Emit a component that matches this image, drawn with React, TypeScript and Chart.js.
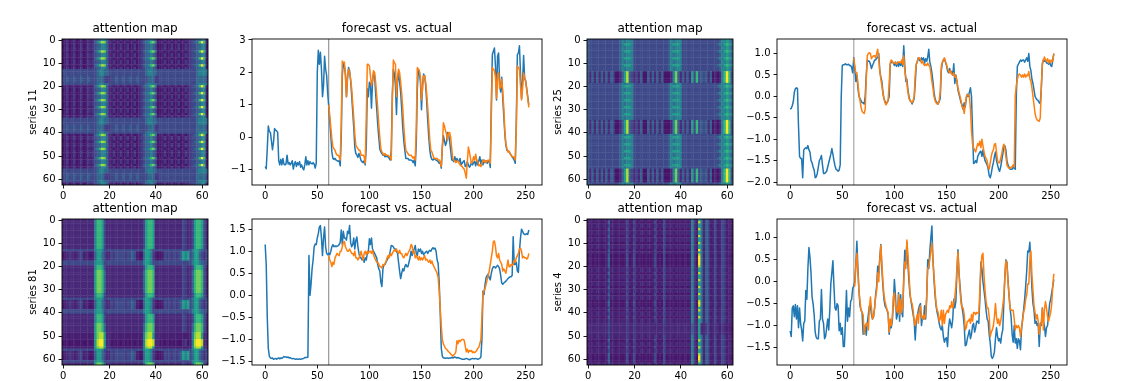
import React, { useEffect, useRef } from "react";
import { Chart, registerables } from "chart.js";

Chart.register(...registerables);

const viridis: Record<string, string> = {
  "0": "#440154", a: "#46146a", e: "#471f72", "1": "#482878", b: "#443a83", "2": "#3e4989", c: "#35608d",
  "3": "#31688e", d: "#2c728e", "4": "#26828e", "5": "#1f9e89", "6": "#35b779", "7": "#6ece58", "8": "#b5de2b", "9": "#fde725",
};
const BLUE = "#1f77b4";
const ORANGE = "#ff7f0e";
const forecastStart = 61;
const xTicksLine = [0, 50, 100, 150, 200, 250];
const xTicksMap = [0, 20, 40, 60];
const yTicksMap = [0, 10, 20, 30, 40, 50, 60];
const yTicks11 = [-1, 0, 1, 2, 3];
const yTicks25 = [-2, -1.5, -1, -0.5, 0, 0.5, 1];
const yTicks81 = [-1.5, -1, -0.5, 0, 0.5, 1, 1.5];
const yTicks4 = [-1.5, -1, -0.5, 0, 0.5, 1];

const actual11 = [
  -0.90,-0.97,-0.35,0.35,0.18,0.15,-0.1,-0.38,-0.15,0.27,
  0.22,0.2,0.15,-0.72,-0.85,-0.68,-0.85,-0.65,-0.83,-0.85,
  -0.82,-0.55,-0.82,-0.78,-0.85,-0.8,-0.72,-0.98,-0.82,-0.75,
  -0.9,-0.78,-0.85,-0.75,-0.92,-0.85,-0.95,-1.0,-0.85,-0.6,
  -0.85,-0.72,-0.85,-0.75,-0.8,-0.82,-0.78,-0.82,-0.95,-0.8,
  2.0,2.68,2.25,2.62,2.1,1.25,1.6,2.5,2.1,1.9,
  1.35,0.95,0.5,0.05,-0.45,-0.65,-0.68,-0.65,-0.7,-0.72,
  -0.74,-0.72,-0.88,0.0,1.9,2.3,2.2,1.95,1.25,1.8,
  2.15,2.05,1.75,1.3,0.8,0.3,-0.3,-0.5,-0.55,-0.62,
  -0.5,-0.6,-0.72,-0.75,-0.78,-0.72,-0.85,-0.3,1.5,1.25,
  1.7,1.65,0.9,1.7,2.0,1.9,1.35,0.9,0.4,0.0,
  -0.35,-0.45,-0.5,-0.55,-0.55,-0.6,-0.55,-0.6,-0.6,-0.65,
  -0.7,-0.4,1.3,2.1,1.95,1.6,0.7,1.7,2.0,1.7,
  1.4,0.9,0.3,-0.1,-0.4,-0.65,-0.65,-0.65,-0.7,-0.7,
  -0.7,-0.72,-0.78,-0.7,-0.88,-0.2,1.5,2.1,2.0,1.7,
  0.85,1.6,1.95,1.9,1.6,1.1,0.5,0.0,-0.4,-0.6,
  -0.68,-0.7,-0.65,-0.68,-0.7,-0.72,-0.75,-0.8,-0.78,-0.95,
  -0.3,0.05,-0.1,-0.25,-0.15,0.15,0.1,-0.1,-0.4,-0.7,
  -0.7,-0.75,-0.6,-0.75,-0.65,-0.72,-0.75,-0.65,-0.85,-0.8,
  -0.75,-0.72,-0.9,-0.88,-0.75,-0.85,-0.92,-0.88,-0.75,-0.85,
  -0.78,-0.75,-0.88,-0.7,-0.85,-0.72,-0.6,-0.82,-0.7,-0.85,
  -0.7,-0.78,-0.72,-0.8,-0.75,-0.72,-0.93,1.0,2.55,2.65,
  2.75,2.2,1.15,2.5,2.6,1.7,1.4,1.85,1.2,0.65,
  0.1,-0.25,-0.4,-0.42,-0.45,-0.5,-0.55,-0.6,-0.65,-0.7,
  -0.8,0.5,2.55,2.6,2.82,2.0,1.2,1.7,2.52,1.8,
  1.75,1.5,1.25,1.0,
];
const forecast11 = [
  1.0,0.65,0.3,-0.05,-0.3,-0.35,-0.4,-0.5,-0.55,
  -0.55,-0.6,-0.7,0.4,2.35,2.3,2.32,1.9,1.25,1.9,
  2.1,2.0,1.8,1.5,1.05,0.6,0.1,-0.25,-0.3,-0.35,
  -0.4,-0.4,-0.55,-0.55,-0.55,-0.6,-0.8,0.6,2.25,2.25,
  2.2,1.9,1.6,1.75,2.05,2.0,1.7,1.3,0.9,0.4,
  0.0,-0.35,-0.45,-0.5,-0.55,-0.5,-0.55,-0.55,-0.55,-0.6,
  -0.6,-0.7,1.1,2.38,2.3,2.25,1.25,1.85,2.1,2.0,
  1.7,1.35,0.9,0.35,-0.1,-0.4,-0.45,-0.5,-0.55,-0.55,
  -0.55,-0.6,-0.65,-0.6,-0.7,0.3,2.15,2.1,2.05,1.85,
  1.15,1.5,1.9,1.9,1.7,1.35,0.9,0.4,-0.1,-0.4,
  -0.45,-0.55,-0.65,-0.65,-0.65,-0.65,-0.7,-0.7,-0.75,-0.9,
  -0.3,0.45,0.35,0.2,0.1,-0.1,0.15,0.15,0.0,-0.35,
  -0.65,-0.7,-0.72,-0.78,-0.75,-0.72,-0.8,-0.85,-0.88,-0.9,
  -0.95,-0.98,-1.1,-1.26,-0.75,-0.3,-0.45,-0.65,-0.8,-0.75,
  -0.6,-0.7,-0.52,-0.72,-0.75,-0.88,-0.85,-0.9,-0.8,-0.7,
  -0.75,-0.72,-0.78,-0.72,-0.7,-0.72,-0.8,0.6,2.15,2.1,
  2.05,1.85,1.2,1.95,2.0,1.5,1.55,1.8,1.4,0.9,
  0.2,-0.2,-0.35,-0.45,-0.42,-0.5,-0.55,-0.6,-0.6,-0.62,
  -0.7,0.3,2.2,2.15,2.1,1.6,1.15,1.5,1.98,1.85,
  1.7,1.45,1.2,0.92,
];
const actual25 = [
  -0.3,-0.28,-0.22,-0.12,0.1,0.18,0.2,0.18,-0.7,-1.4,
  -1.45,-1.45,-1.9,-1.25,-1.22,-1.2,-1.22,-1.15,-1.25,-1.3,
  -1.5,-1.55,-1.65,-1.72,-1.9,-1.88,-1.8,-1.65,-1.5,-1.45,
  -1.38,-1.6,-1.8,-1.8,-1.78,-1.75,-1.65,-1.55,-1.45,-1.35,
  -1.22,-1.35,-1.5,-1.62,-1.7,-1.72,-1.75,-1.72,-1.6,0.0,
  0.72,0.74,0.74,0.76,0.74,0.74,0.75,0.72,0.72,0.68,
  0.55,0.9,0.65,0.35,0.5,0.2,0.0,-0.05,-0.1,-0.15,
  -0.15,-0.18,0.0,0.5,0.85,0.82,0.82,0.75,0.65,0.72,
  0.78,0.85,0.85,0.9,0.9,1.0,0.6,0.45,0.35,0.1,
  -0.05,-0.12,-0.15,-0.15,-0.1,0.0,0.75,0.8,0.8,0.78,
  0.72,0.8,0.7,0.8,0.7,0.78,0.72,0.8,0.7,1.18,
  0.7,0.35,0.4,0.15,0.0,-0.1,-0.12,-0.18,-0.12,-0.05,
  0.3,0.75,0.82,0.9,0.85,0.82,0.9,0.85,0.9,0.78,
  0.88,0.82,0.92,1.1,0.8,0.7,0.55,0.35,0.1,-0.05,
  -0.12,-0.15,-0.18,-0.12,-0.05,0.6,0.78,0.85,0.88,0.8,
  0.72,0.6,0.55,0.65,0.55,0.58,0.5,0.76,0.3,0.5,
  0.35,0.15,0.05,-0.05,-0.15,-0.2,-0.3,-0.15,-0.25,-0.05,
  0.05,0.0,0.1,0.2,0.0,-0.8,-1.57,-1.55,-1.5,-1.55,
  -1.4,-1.35,-1.3,-1.28,-1.4,-1.25,-1.4,-1.5,-1.55,-1.6,
  -1.7,-1.85,-1.9,-1.8,-1.65,-1.55,-1.4,-1.3,-1.5,-1.6,
  -1.7,-1.75,-1.65,-1.5,-1.35,-1.2,-1.15,-1.25,-1.5,-1.6,
  -1.65,-1.7,-1.7,-1.7,-1.65,-1.68,-1.7,0.0,0.7,0.75,
  0.8,0.85,0.82,0.85,0.85,0.8,0.85,0.9,0.82,1.0,
  0.7,0.6,0.4,0.3,0.15,0.0,-0.05,-0.08,-0.1,-0.15,
  -0.17,0.2,0.75,0.85,0.82,0.85,0.78,0.78,0.75,0.8,
  0.72,0.7,0.85,1.0,
];
const forecast25 = [
  0.9,0.7,0.55,0.55,0.3,0.05,-0.1,-0.25,-0.35,
  -0.38,-0.4,-0.3,0.4,0.95,1.0,1.02,1.0,0.88,0.92,
  0.95,0.95,0.9,1.0,1.1,0.85,0.6,0.4,0.25,0.05,
  -0.05,-0.15,-0.2,-0.15,-0.08,0.3,0.78,0.85,0.82,0.78,
  0.78,0.8,0.75,0.78,0.8,0.8,0.78,0.85,0.75,0.95,
  0.6,0.45,0.3,0.1,-0.05,-0.1,-0.12,-0.15,-0.1,0.0,
  0.5,0.75,0.8,0.9,0.9,0.85,0.78,0.82,0.75,0.72,
  0.75,0.72,0.78,0.72,0.7,0.55,0.35,0.2,0.0,-0.1,
  -0.15,-0.18,-0.18,-0.1,0.1,0.7,0.8,0.85,0.9,0.82,
  0.75,0.65,0.6,0.55,0.6,0.52,0.5,0.55,0.45,0.48,
  0.35,0.2,0.1,0.0,-0.1,-0.25,-0.25,-0.4,-0.2,0.0,
  0.03,0.05,0.0,-0.3,-0.8,-1.1,-1.2,-1.25,-1.3,-1.2,
  -1.1,-1.15,-1.05,-1.2,-1.0,-1.15,-1.3,-1.4,-1.45,-1.5,
  -1.65,-1.7,-1.55,-1.4,-1.3,-1.25,-1.12,-1.1,-1.3,-1.5,
  -1.55,-1.55,-1.45,-1.35,-1.2,-1.12,-1.2,-1.4,-1.6,-1.65,
  -1.68,-1.68,-1.65,-1.65,-1.6,-1.65,0.0,0.25,0.4,0.5,
  0.52,0.5,0.45,0.5,0.45,0.52,0.45,0.5,0.48,0.58,
  0.42,0.35,0.2,0.0,-0.2,-0.4,-0.5,-0.55,-0.57,-0.58,
  -0.5,0.2,0.78,0.85,0.92,0.85,0.82,0.88,0.78,0.85,
  0.8,0.85,0.82,1.0,
];
const actual81 = [
  1.15,0.7,-0.5,-1.2,-1.38,-1.42,-1.43,-1.42,-1.45,-1.44,
  -1.43,-1.45,-1.43,-1.42,-1.44,-1.42,-1.43,-1.41,-1.39,-1.4,
  -1.4,-1.41,-1.4,-1.42,-1.41,-1.43,-1.44,-1.43,-1.44,-1.45,
  -1.44,-1.45,-1.45,-1.44,-1.45,-1.44,-1.44,-1.43,-1.41,-1.41,
  -1.41,-1.4,0.9,0.0,0.25,0.6,0.8,1.1,1.16,1.15,
  1.3,1.4,1.55,1.58,1.3,0.9,1.3,1.55,1.1,0.95,
  0.92,0.95,0.92,1.0,1.1,1.15,1.1,1.12,1.1,1.12,
  1.12,1.15,1.2,1.48,1.15,1.45,1.3,1.3,1.25,1.45,
  1.4,1.58,1.2,1.1,1.15,1.3,1.05,1.25,1.32,1.1,
  0.95,0.85,0.85,0.8,0.85,0.75,0.85,0.8,0.95,1.0,
  1.28,1.15,1.3,1.05,1.0,0.95,0.9,0.85,0.7,0.6,
  0.55,0.3,0.2,0.6,0.7,0.7,0.75,0.8,0.85,0.9,
  1.0,1.13,1.12,1.1,1.05,1.05,1.0,0.95,0.75,0.55,
  0.38,0.5,0.6,0.55,0.65,0.7,0.65,0.65,0.75,0.85,
  1.0,0.9,1.0,1.05,1.13,0.95,0.9,1.05,1.0,1.05,
  0.95,1.0,0.92,0.95,0.98,1.0,0.95,1.0,1.02,1.0,
  1.05,1.08,1.05,1.07,1.0,0.8,0.72,0.3,-0.4,-1.2,
  -1.38,-1.42,-1.42,-1.43,-1.42,-1.42,-1.43,-1.42,-1.42,-1.41,
  -1.42,-1.41,-1.4,-1.41,-1.42,-1.41,-1.42,-1.43,-1.44,-1.45,
  -1.45,-1.45,-1.44,-1.43,-1.44,-1.45,-1.46,-1.45,-1.44,-1.43,
  -1.44,-1.44,-1.43,-1.44,-1.45,-1.44,-1.43,-1.4,-1.0,0.1,
  0.02,0.25,0.4,0.45,0.48,0.4,0.35,0.5,0.6,0.65,
  0.65,0.62,0.65,0.68,0.65,0.6,0.45,0.28,0.25,0.28,
  0.3,0.32,0.35,0.38,0.4,0.42,0.42,0.45,1.33,0.7,
  0.7,0.75,0.55,0.52,1.0,1.3,1.5,1.45,1.4,1.38,
  1.38,1.4,1.38,1.48,
];
const forecast81 = [
  0.9,0.8,0.75,0.65,0.75,0.7,0.85,0.9,0.95,
  0.92,0.9,1.0,1.0,1.1,1.2,1.22,1.1,1.05,1.0,
  1.0,1.05,1.0,0.95,0.95,0.9,1.0,0.85,0.85,0.8,
  0.85,0.9,1.0,0.9,0.8,0.95,1.0,0.92,1.0,0.95,
  1.0,1.0,0.95,1.02,0.92,0.85,0.8,0.75,0.75,0.7,
  0.65,0.65,0.62,0.7,0.68,0.72,0.78,0.85,0.9,0.85,
  0.95,0.9,0.95,1.0,1.03,1.0,1.05,0.98,0.95,1.02,
  0.95,0.95,0.88,0.85,0.9,0.95,0.9,0.95,1.0,1.05,
  1.15,1.12,0.95,1.0,0.85,0.9,0.85,0.8,0.88,0.8,
  0.85,0.8,0.85,0.9,0.8,0.82,0.78,0.75,0.8,0.72,
  0.78,0.7,0.65,0.6,0.55,0.5,0.4,0.1,-0.3,-0.7,
  -1.0,-1.1,-1.15,-1.2,-1.22,-1.25,-1.28,-1.3,-1.33,-1.35,
  -1.38,-1.35,-1.33,-1.28,-1.03,-1.1,-1.02,-1.05,-1.02,-1.0,
  -1.0,-1.02,-1.15,-1.28,-1.22,-1.3,-1.25,-1.27,-1.25,-1.3,
  -1.28,-1.3,-1.28,-1.25,-1.2,-1.18,-1.1,-1.0,-0.5,0.05,
  0.1,0.15,0.25,0.35,0.45,0.55,0.7,0.85,1.0,1.22,
  1.23,1.1,0.9,0.85,0.95,0.8,0.75,0.7,0.55,0.6,
  0.55,0.5,0.65,0.8,0.65,0.65,0.7,0.68,0.7,0.8,
  0.75,0.85,0.9,0.95,1.05,1.07,1.0,0.85,0.88,0.85,
  0.85,0.82,0.85,0.95,
];
const actual4 = [
  -1.12,-1.25,-0.6,-0.55,-0.8,-0.52,-0.85,-0.55,-1.05,-0.6,
  -0.95,-1.1,-1.35,-0.95,-0.9,-0.2,-0.4,0.3,0.78,0.55,
  0.2,-0.35,-0.5,-0.75,-1.15,-1.27,-1.3,-1.3,-0.9,-0.85,
  -0.18,-0.85,-0.95,-1.3,-1.25,-1.05,-0.85,-1.1,-0.65,-0.05,
  0.2,0.48,-0.1,-0.6,-0.65,-0.5,-0.55,-1.12,-0.95,-1.2,
  -1.05,-1.48,-1.48,-0.9,-0.2,-0.9,-0.6,-0.8,-0.45,-0.4,
  -0.15,-0.1,0.0,0.4,0.92,0.3,-0.2,-0.55,-0.65,-0.7,
  -1.2,-1.05,-1.0,-1.22,-0.95,-0.75,-0.55,-0.55,-0.75,-0.85,
  -0.8,-0.6,-0.3,-0.1,0.35,0.2,0.55,0.85,0.3,-0.1,
  -0.4,-0.55,-0.6,-0.65,-0.75,-1.2,-0.95,-1.05,-0.9,-0.5,
  0.05,-0.3,-0.85,-0.75,-0.25,-0.9,-0.3,-0.7,-0.8,0.15,
  0.72,0.4,0.9,0.4,0.0,-0.3,-0.45,-0.6,-0.75,-0.9,
  -1.33,-0.9,-0.8,-0.65,-0.55,-0.5,-1.0,-0.8,-0.85,-0.55,
  -0.85,-0.4,0.5,0.3,0.7,1.0,1.27,0.5,0.05,-0.3,
  -0.55,-0.7,-0.8,-0.95,-1.05,-1.1,-1.0,-1.25,-1.38,-1.3,
  -1.28,-1.48,-1.05,-0.85,-0.95,-1.05,-0.85,-0.4,-0.6,-0.45,
  0.2,0.73,0.2,-0.1,-0.4,-0.6,-0.75,-1.0,-1.46,-1.44,
  -1.3,-1.2,-1.1,-1.3,-1.2,-1.0,-0.95,-1.15,-1.05,-0.9,
  -0.9,-0.95,-0.4,0.45,0.3,0.0,-0.2,-0.4,-0.65,-0.85,
  -0.9,-1.2,-1.4,-1.7,-1.75,-1.7,-1.6,-1.3,-1.05,-1.25,
  -1.35,-1.3,-1.4,-1.2,-1.1,-0.5,0.1,0.5,0.45,0.05,
  -0.3,-0.6,-0.8,-1.2,-1.38,-1.0,-1.4,-1.3,-1.52,-1.3,
  -1.35,-1.55,-1.1,-0.85,-0.65,-0.4,-0.1,0.25,0.7,0.68,
  0.9,0.4,-0.15,-0.5,-0.65,-0.95,-0.9,-1.0,-0.95,-1.48,
  -0.95,-1.0,-0.6,-0.9,-1.0,-1.25,-1.05,-1.0,-0.75,-0.5,
  -0.4,-0.25,-0.1,0.05,
];
const forecast4 = [
  -0.1,-0.1,0.35,0.65,0.2,-0.2,-0.45,-0.65,-0.7,
  -0.75,-1.2,-1.0,-0.95,-0.95,-1.1,-0.6,-0.35,-0.6,-0.85,
  -0.8,-0.6,-0.35,-0.2,0.2,0.0,0.5,0.83,0.4,0.0,
  -0.3,-0.45,-0.55,-0.65,-0.7,-1.15,-0.85,-1.0,-0.8,-0.35,
  -0.25,-0.55,-0.65,-0.7,-0.3,-0.75,-0.4,-0.7,-0.55,0.0,
  0.45,0.3,0.95,0.6,0.2,-0.25,-0.45,-0.5,-0.65,-0.9,
  -1.0,-0.85,-0.75,-0.95,-0.65,-0.55,-0.8,-0.85,-0.75,-0.85,
  -0.75,-0.3,0.3,0.35,0.5,0.7,0.88,0.5,0.15,-0.2,
  -0.5,-0.65,-0.7,-0.9,-0.85,-0.65,-1.0,-0.65,-0.95,-0.75,
  -0.7,-0.65,-0.7,-0.55,-0.6,-0.45,-0.6,-0.5,-0.35,-0.1,
  0.3,0.68,0.2,-0.2,-0.5,-0.6,-0.6,-0.75,-1.1,-1.05,
  -0.9,-0.9,-0.85,-0.95,-0.75,-0.9,-0.7,-0.7,-0.75,-0.7,
  -0.72,-0.72,-0.2,0.3,0.6,0.65,0.15,-0.2,-0.45,-0.6,
  -0.6,-0.8,-1.25,-1.15,-1.1,-1.0,-0.8,-0.5,-0.8,-0.95,
  -0.85,-1.0,-0.9,-0.75,-0.55,-0.35,0.1,0.48,0.4,0.0,
  -0.3,-0.6,-0.65,-0.65,-0.65,-0.85,-1.1,-1.0,-1.05,-1.0,
  -1.05,-1.25,-1.05,-0.9,-0.7,-0.6,-0.4,-0.3,-0.05,-0.05,
  0.5,0.7,0.15,-0.2,-0.55,-0.7,-0.85,-0.75,-0.9,-1.2,
  -1.0,-0.95,-0.6,-1.1,-0.65,-0.45,-0.6,-0.8,-0.9,-0.8,
  -0.7,-0.5,-0.1,0.18,
];

// Attention maps: each distinct row (one shade key per cell),
// then one letter per row saying which distinct row it is.
const rowTypes11: Record<string, string> = {
  A: "ae1ae1ae1ae1e1c4687c1" + "1ae1ae1ae1ae1bc34674a" + "e1ae1ae1ae1a1b2c3696e",
  C: "aebaebaebaeb1b2c344c1" + "ebaebaebaeba1b2c34c2a" + "aebaebaebaeb1b22c344e",
  D: "22c22c22c22c2223332bb" + "22c22c22c22c2222333bb" + "222222222222222233332",
  E: "222222222222222344332" + "222222222222222344332" + "222222222222222234443",
};
const rowMap11 = "CACCCACCACCACEEEDDDE" + "ACCACCACCACCACEEEDDD" + "EACCACCACCCACCACEEDDDEC";
const rowTypes25: Record<string, string> = {
  G: "c2222222222222c4d4442" + "22222222222222c4d4442" + "222222222222222c4454c",
  T: "c2222222222222c455542" + "22222222222222c455542" + "22222222222222c4d5654",
  H: "c1c1c1c1c1c2aa1c58c21" + "21caac1c1c1caaa147c1c" + "1c15262c2c1ca1a146962",
};
const rowMap25 = "GGTGGTGGTGGTGG" + "HHHHH" + "GTGGTGGTGGTGGTGG" + "HHHHHH" + "GTGGTGGTGGTGGTG" + "HHHHHH" + "G";
const rowTypes81: Record<string, string> = {
  I: "11111111111111" + "4665211" + "11111111111111" + "2566511" + "11111111112b11" + "2566521",
  J: "11111111111111" + "5776311" + "11111111111111" + "3677611" + "11111111112b11" + "3677621",
  N: "eeeeeeeeeeeeee" + "5788511" + "eeeeeeeeeeeeee" + "4788511" + "eeeeeeeeeeeeee" + "4788511",
  K: "aaeaaeaaeaaeae" + "5899511" + "aeaeaeaeaeaeae" + "4899811" + "aeaeaeaeaa1bae" + "4899811",
  L: "ae1b1e1b2e1eae" + "c553211" + "2b2222b22c2eaa" + "3554bea" + "ae2b2b2b2c5452" + "3553212",
  M: "22222222222222" + "4554222" + "22222222222222" + "4554222" + "22222222222222" + "4554322",
};
const rowMap81 = "IIIIIIIIIIIIIMLLLLMMIIJJJJJJJJJJIIMLLLLMMIIIIJJJJNNNKKKNMLLLLMJ";
const rowTypes4: Record<string, string> = {
  P: "1e1e11e1e" + "2" + "11e1e11" + "b" + "1e" + "b" + "1e11e11eb1e1" + "2" + "111e1e11e11" + "4b15d1c2e12e12be1e",
  Q: "aeaeaeaae" + "c" + "aeaeaae" + "2" + "ae" + "2" + "aeaaeaae2aea" + "2" + "aeaeaaeaeae" + "4ba8dec2ee2ee2beea",
  R: "aeaeaeaae" + "c" + "aeaeaae" + "2" + "ae" + "2" + "aeaaeaae2aea" + "2" + "aeaeaaeaeae" + "4ba9dec2ee2ee2beea",
  S: "111111111" + "2" + "1111111" + "b" + "11" + "b" + "111111111111" + "b" + "11111111111" + "cb1511b2e1b1eb1eea",
};
const rowMap4 = "PQPPQPPQPPQPP" + "RPQRRRRQ" + "PPQPPQPPQPPQPPQ" + "RQPQPPQPP" + "SSSSS" + "PPQPPQPPQRRQP";

const fmt = (decimals: number) => (v: any) => {
  const s = Math.abs(Number(v)).toFixed(decimals);
  return Number(v) < 0 ? "\u2212" + s : s;
};

const frame = {
  id: "frame",
  afterDraw(chart: any) {
    const { left, top, right, bottom } = chart.chartArea;
    const c = chart.ctx;
    c.save();
    c.strokeStyle = "#000";
    c.lineWidth = 0.9;
    c.strokeRect(left, top, right - left, bottom - top);
    c.restore();
  },
};

const FONT = "'DejaVu Sans'";
const TOPM = 17;
const BOTM = 22;
const SIDE = 46;

function baseOptions(title: string, xTicks: number[], yTicks: number[], xr: number[], yr: number[], dec: number, ylabel: string | null, reverse: boolean) {
  const common = {
    border: { display: false },
    grid: { drawOnChartArea: false, drawTicks: true, tickLength: 3.5, tickColor: "#000", tickWidth: 0.9 },
  };
  return {
    animation: false,
    responsive: false,
    devicePixelRatio: 1,
    events: [],
    layout: { padding: { left: 0, right: SIDE, top: 0, bottom: 0 } },
    plugins: {
      legend: { display: false },
      tooltip: { enabled: false },
      title: {
        display: true,
        fullSize: false,
        text: title,
        color: "#000",
        font: { family: FONT, size: 12, weight: "normal", lineHeight: "14px" },
        padding: { top: 0, bottom: 3 },
      },
    },
    scales: {
      x: {
        ...common,
        type: "linear",
        min: xr[0],
        max: xr[1],
        afterBuildTicks: (s: any) => { s.ticks = xTicks.map((value) => ({ value })); },
        afterFit: (s: any) => { s.height = BOTM; },
        ticks: { color: "#000", font: { family: FONT, size: 10 }, padding: 2, maxRotation: 0, autoSkip: false, callback: fmt(0) },
      },
      y: {
        ...common,
        type: "linear",
        reverse,
        min: yr[0],
        max: yr[1],
        afterBuildTicks: (s: any) => { s.ticks = yTicks.map((value) => ({ value })); },
        afterFit: (s: any) => { s.width = SIDE; },
        ticks: { color: "#000", font: { family: FONT, size: 10 }, padding: 3, autoSkip: false, callback: fmt(dec) },
        title: ylabel
          ? { display: true, text: ylabel, color: "#000", font: { family: FONT, size: 10, lineHeight: "12px" }, padding: { top: 11, bottom: 0 } }
          : { display: false },
      },
    },
  };
}

function HeatPanel(p: { left: number; top: number; label: string; types: Record<string, string>; rows: string }) {
  const ref = useRef<HTMLCanvasElement>(null);
  useEffect(() => {
    const pts: { x: number; y: number }[] = [];
    const cols: string[] = [];
    p.rows.split("").forEach((key, y) => {
      p.types[key].split("").forEach((d, x) => {
        pts.push({ x, y });
        cols.push(viridis[d]);
      });
    });
    const chart = new Chart(ref.current as any, {
      type: "scatter",
      data: { datasets: [{ data: pts, backgroundColor: cols, pointStyle: "rect", pointRadius: 1.9, borderWidth: 0 }] },
      options: baseOptions("attention map", xTicksMap, yTicksMap, [-0.5, 62.5], [-0.5, 62.5], 0, p.label, true) as any,
      plugins: [frame],
    } as any);
    return () => chart.destroy();
  }, []);
  return (
    <canvas
      ref={ref}
      width={146 + SIDE * 2}
      height={146 + TOPM + BOTM}
      style={{ position: "absolute", left: p.left - SIDE, top: p.top - TOPM }}
    />
  );
}

function LinePanel(p: { left: number; top: number; actual: number[]; forecast: number[]; yTicks: number[]; yr: number[]; dec: number; vColor: string; vWidth: number }) {
  const ref = useRef<HTMLCanvasElement>(null);
  useEffect(() => {
    const chart = new Chart(ref.current as any, {
      type: "line",
      data: {
        datasets: [
          { data: p.forecast.map((y, i) => ({ x: forecastStart + i, y })), borderColor: ORANGE, borderWidth: 1.5, pointRadius: 0, order: 1, borderJoinStyle: "round" },
          { data: p.actual.map((y, x) => ({ x, y })), borderColor: BLUE, borderWidth: 1.5, pointRadius: 0, order: 2, borderJoinStyle: "round" },
          { data: [{ x: forecastStart, y: p.yr[0] }, { x: forecastStart, y: p.yr[1] }], borderColor: p.vColor, borderWidth: p.vWidth, pointRadius: 0, order: 3 },
        ],
      },
      options: baseOptions("forecast vs. actual", xTicksLine, p.yTicks, [-12.65, 265.65], p.yr, p.dec, null, false) as any,
      plugins: [frame],
    } as any);
    return () => chart.destroy();
  }, []);
  return (
    <canvas
      ref={ref}
      width={290 + SIDE * 2}
      height={146 + TOPM + BOTM}
      style={{ position: "absolute", left: p.left - SIDE, top: p.top - TOPM }}
    />
  );
}

export default function App() {
  return (
    <div style={{ position: "absolute", left: 0, top: 0, width: 1136, height: 381, background: "#fff", overflow: "hidden", filter: "blur(0.5px)" }}>
      <HeatPanel left={62} top={39} label="series 11" types={rowTypes11} rows={rowMap11} />
      <LinePanel left={252} top={39} actual={actual11} forecast={forecast11} yTicks={yTicks11} yr={[-1.47, 3.03]} dec={0} vColor="#808080" vWidth={1} />
      <HeatPanel left={587} top={39} label="series 25" types={rowTypes25} rows={rowMap25} />
      <LinePanel left={777} top={39} actual={actual25} forecast={forecast25} yTicks={yTicks25} yr={[-2.07, 1.34]} dec={1} vColor="#b8b8b8" vWidth={1.5} />
      <HeatPanel left={62} top={219} label="series 81" types={rowTypes81} rows={rowMap81} />
      <LinePanel left={252} top={219} actual={actual81} forecast={forecast81} yTicks={yTicks81} yr={[-1.58, 1.73]} dec={1} vColor="#808080" vWidth={1} />
      <HeatPanel left={587} top={219} label="series 4" types={rowTypes4} rows={rowMap4} />
      <LinePanel left={777} top={219} actual={actual4} forecast={forecast4} yTicks={yTicks4} yr={[-1.9, 1.43]} dec={1} vColor="#b8b8b8" vWidth={1.5} />
    </div>
  );
}
